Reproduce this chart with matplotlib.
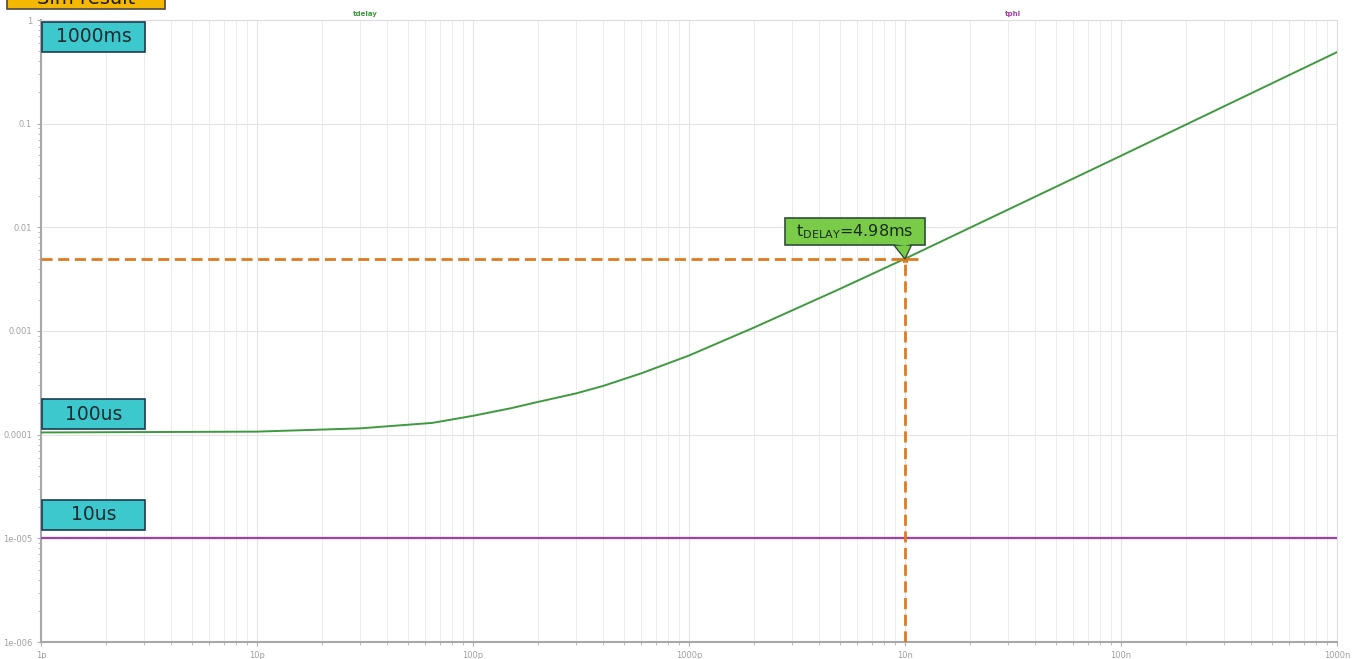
import matplotlib
matplotlib.use("Agg")
import matplotlib.pyplot as plt
from matplotlib.patches import Rectangle, Polygon
from matplotlib.ticker import LogLocator, FixedLocator, NullFormatter

W, H = 1358, 659
cap = [1e-12, 1e-11, 3e-11, 6.5e-11, 1e-10, 1.5e-10, 2e-10, 3e-10, 4e-10, 6e-10, 1e-9, 2e-9, 5e-9, 1e-8, 1e-7, 1e-6]
tdelay = [1.05e-4, 1.07e-4, 1.15e-4, 1.3e-4, 1.52e-4, 1.8e-4, 2.07e-4, 2.5e-4, 2.95e-4, 3.9e-4,
          5.8e-4, 1.08e-3, 2.55e-3, 4.98e-3, 4.9e-2, 0.49]
tphl_x = [1e-12, 1e-6]
tphl = [1e-5, 1e-5]
x_ticks = [1e-12, 1e-11, 1e-10, 1e-9, 1e-8, 1e-7, 1e-6]
x_labels = ["1p", "10p", "100p", "1000p", "10n", "100n", "1000n"]
y_ticks = [1e-6, 1e-5, 1e-4, 1e-3, 1e-2, 1e-1, 1]
y_labels = ["1e-006", "1e-005", "0.0001", "0.001", "0.01", "0.1", "1"]
marker_x, marker_y = 1e-8, 4.98e-3
box_labels = ["1000ms", "100us", "10us"]
box_tops = [22, 399, 500]  # pixel rows of box tops

fig = plt.figure(figsize=(W / 100, H / 100), dpi=100)
ax = fig.add_axes([41 / W, 1 - 642 / H, (1337 - 41) / W, (642 - 20) / H])
ax.set_xscale("log")
ax.set_yscale("log")
ax.set_xlim(1e-12, 1e-6)
ax.set_ylim(1e-6, 1)

ax.xaxis.set_major_locator(FixedLocator(x_ticks))
ax.set_xticklabels(x_labels)
ax.xaxis.set_minor_locator(LogLocator(base=10, subs=range(2, 10), numticks=20))
ax.xaxis.set_minor_formatter(NullFormatter())
ax.yaxis.set_major_locator(FixedLocator(y_ticks))
ax.set_yticklabels(y_labels)
ax.yaxis.set_minor_locator(LogLocator(base=10, subs=range(2, 10), numticks=20))
ax.yaxis.set_minor_formatter(NullFormatter())

ax.grid(True, which="major", axis="both", color="#e4e4e4", lw=0.8)
ax.grid(True, which="minor", axis="x", color="#ececec", lw=0.7)
ax.tick_params(which="both", colors="#b0b0b0", labelcolor="#a0a0a0", labelsize=6, length=3, direction="out")
ax.tick_params(which="minor", length=2)
for s in ["left", "bottom"]:
    ax.spines[s].set_color("#a8a8a8")
    ax.spines[s].set_linewidth(1.5)
for s in ["top", "right"]:
    ax.spines[s].set_color("#dddddd")
    ax.spines[s].set_linewidth(0.8)

ax.plot(cap, tdelay, color="#3f9a3f", lw=1.4, zorder=3)
ax.plot(tphl_x, tphl, color="#a040a8", lw=1.6, zorder=3)

# dashed guide lines
ax.plot([1e-12, 1.15e-8], [marker_y, marker_y], color="#e07a20", lw=2, ls=(0, (4, 2)), zorder=4, clip_on=False)
ax.plot([marker_x, marker_x], [1e-6, marker_y], color="#e07a20", lw=2, ls=(0, (4, 2)), zorder=4)

# trace labels
fig.text(365 / W, 1 - 14 / H, "tdelay", color="#3f9a3f", fontsize=5, ha="center", va="center", weight="bold")
fig.text(1013 / W, 1 - 14 / H, "tphl", color="#a040a8", fontsize=5, ha="center", va="center", weight="bold")


def pix_rect(x0, y0, x1, y1, fc, ec, lw=1.2, z=6):
    r = Rectangle((x0 / W, 1 - y1 / H), (x1 - x0) / W, (y1 - y0) / H, transform=fig.transFigure,
                  fc=fc, ec=ec, lw=lw, zorder=z)
    fig.add_artist(r)


# cyan value boxes
for txt, top in zip(box_labels, box_tops):
    pix_rect(42, top, 145, top + 30, "#3cc8cc", "#1f3b50")
    fig.text(93.5 / W, 1 - (top + 15) / H, txt, fontsize=13.5, color="#1a2a30", ha="center", va="center", zorder=7)

# callout
pix_rect(785, 218, 925, 245, "#7acb48", "#2f4f3a", z=8)
tip = Polygon([(893 / W, 1 - 244 / H), (912 / W, 1 - 244 / H), (905 / W, 1 - 259 / H)], closed=True,
              transform=fig.transFigure, fc="#7acb48", ec="#2f4f3a", lw=1.0, zorder=7)
fig.add_artist(tip)
fig.add_artist(Polygon([(894 / W, 1 - 244 / H), (911 / W, 1 - 244 / H), (905 / W, 1 - 246 / H)], closed=True,
                       transform=fig.transFigure, fc="#7acb48", ec="none", zorder=9))
fig.text(855 / W, 1 - 232 / H, "t$_{\\mathregular{DELAY}}$=4.98ms", fontsize=11.5, color="#1a2a20",
         ha="center", va="center", zorder=10)
ax.plot([marker_x], [marker_y], marker="*", color="#e07a20", ms=6, zorder=5)

# Sim result tag at top-left (cut off at the figure edge, as in the reference)
pix_rect(7, -20, 165, 9, "#f5b800", "#4a4a4a")
fig.text(86 / W, 1 - (-1) / H, "Sim result", fontsize=14, color="#1a1a1a", ha="center", va="center", zorder=7)

fig.savefig("out.png", dpi=100)
